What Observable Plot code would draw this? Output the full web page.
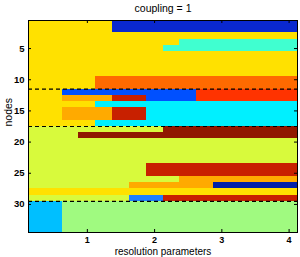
<!DOCTYPE html>
<html><head><meta charset="utf-8">
<script src="https://cdn.jsdelivr.net/npm/d3@7"></script>
<script src="https://cdn.jsdelivr.net/npm/@observablehq/plot@0.6"></script>
<style>
body{margin:0;background:#fff;}
#chart svg{display:block;}
</style>
</head><body><div id="chart"></div>
<script>
const title = "coupling = 1";
const xLabel = "resolution parameters";
const yLabel = "nodes";
const resolutions = [0.25, 0.5, 0.75, 1.0, 1.25, 1.5, 1.75, 2.0, 2.25, 2.5, 2.75, 3.0, 3.25, 3.5, 3.75, 4.0];
const xTicks = [1, 2, 3, 4];
const yTicks = [5, 10, 15, 20, 25, 30];
const groupBoundaries = [11.5, 17.5, 29.5];
const communityCodes = ["Y", "B", "A", "O", "b", "R", "o", "r", "C", "G", "D", "N", "L", "S", "P"];
const communityColors = ["#ffe100", "#0a28d0", "#40ffd0", "#ff6a00", "#0050ff", "#ff3300", "#ffaa00", "#c82000", "#00f0ff", "#d8fa3c", "#901800", "#0020a8", "#1e80ff", "#00bfff", "#a0fa80"];
// one string per node (1..34), one letter per resolution parameter
const assignments = [
  "YYYYYBBBBBBBBBBB",
  "YYYYYBBBBBBBBBBB",
  "YYYYYYYYYYYYYYYY",
  "YYYYYYYYYAAAAAAA",
  "YYYYYYYYAAAAAAAA",
  "YYYYYYYYYYYYYYYY",
  "YYYYYYYYYYYYYYYY",
  "YYYYYYYYYYYYYYYY",
  "YYYYYYYYYYYYYYYY",
  "YYYYOOOOOOOOOOOO",
  "YYYYOOOOOOOOOOOO",
  "YYbbbbbbbbRRRRRR",
  "YYooorrbbbRRRRRR",
  "YYYYCCCCCCCCCCCC",
  "YYooorrCCCCCCCCC",
  "YYooorrCCCCCCCCC",
  "YYYYCCCCCCCCCCCC",
  "GGGGGGGGDDDDDDDD",
  "GGGDDDDDDDDDDDDD",
  "GGGGGGGGGGGGGGGG",
  "GGGGGGGGGGGGGGGG",
  "GGGGGGGGGGGGGGGG",
  "GGGGGGGGGGGGGGGG",
  "GGGGGGGrrrrrrrrr",
  "GGGGGGGrrrrrrrrr",
  "GGGGGGGGGooooooo",
  "GGGGGGoooooNNNNN",
  "YYYYYYYYYYYYYYYY",
  "GGGGGGLLrrrrrrrr",
  "SSPPPPPPPPPPPPPP",
  "SSPPPPPPPPPPPPPP",
  "SSPPPPPPPPPPPPPP",
  "SSPPPPPPPPPPPPPP",
  "SSPPPPPPPPPPPPPP"
];

const half = (resolutions[1] - resolutions[0]) / 2;
const cells = assignments.flatMap((row, i) =>
  Array.from(row).map((c, j) => ({node: i + 1, gamma: resolutions[j], community: c}))
);

const W = 300, H = 257;
const mL = 28, mR = 3, mT = 20, mB = 25;
const innerW = W - mL - mR, innerH = H - mT - mB;
const font = "Liberation Sans, Arial, Helvetica, sans-serif";

const chart = Plot.plot({
  width: W, height: H,
  marginLeft: mL, marginRight: mR, marginTop: mT, marginBottom: mB,
  style: {fontFamily: font, fontSize: "10px", color: "#000", background: "#fff"},
  x: {domain: [resolutions[0] - half, resolutions[resolutions.length - 1] + half], ticks: xTicks, label: null},
  y: {domain: [0.5, assignments.length + 0.5], reverse: true, ticks: yTicks, label: null},
  color: {type: "ordinal", domain: communityCodes, range: communityColors},
  marks: [
    Plot.rect(cells, {
      x1: d => d.gamma - half, x2: d => d.gamma + half,
      y1: d => d.node - 0.5, y2: d => d.node + 0.5,
      fill: "community", shapeRendering: "crispEdges"
    }),
    Plot.ruleY(groupBoundaries, {stroke: "#000", strokeWidth: 1.2, strokeDasharray: "4,3"}),
    Plot.ruleX(xTicks, {stroke: "#000", insetTop: innerH - 3}),
    Plot.ruleX(xTicks, {stroke: "#000", insetBottom: innerH - 3}),
    Plot.ruleY(yTicks, {stroke: "#000", insetRight: innerW - 3}),
    Plot.ruleY(yTicks, {stroke: "#000", insetLeft: innerW - 3}),
    Plot.frame({stroke: "#000"}),
    Plot.axisX(xTicks, {tickSize: 0, tickPadding: 4.5, fontSize: 9, fontWeight: "bold", label: null}),
    Plot.axisY(yTicks, {tickSize: 0, tickPadding: 4, fontSize: 9.5, fontWeight: "bold", label: null}),
    Plot.text([title], {frameAnchor: "top", dy: -9, lineAnchor: "bottom", fontSize: 10.5, fill: "#000"}),
    Plot.text([xLabel], {frameAnchor: "bottom", dy: 22, lineAnchor: "bottom", fontSize: 10, fill: "#000"}),
    Plot.text([yLabel], {frameAnchor: "left", dx: -16.5, rotate: -90, lineAnchor: "bottom", fontSize: 10.5, fill: "#000"})
  ]
});
document.getElementById("chart").appendChild(chart);
</script>
</body></html>
